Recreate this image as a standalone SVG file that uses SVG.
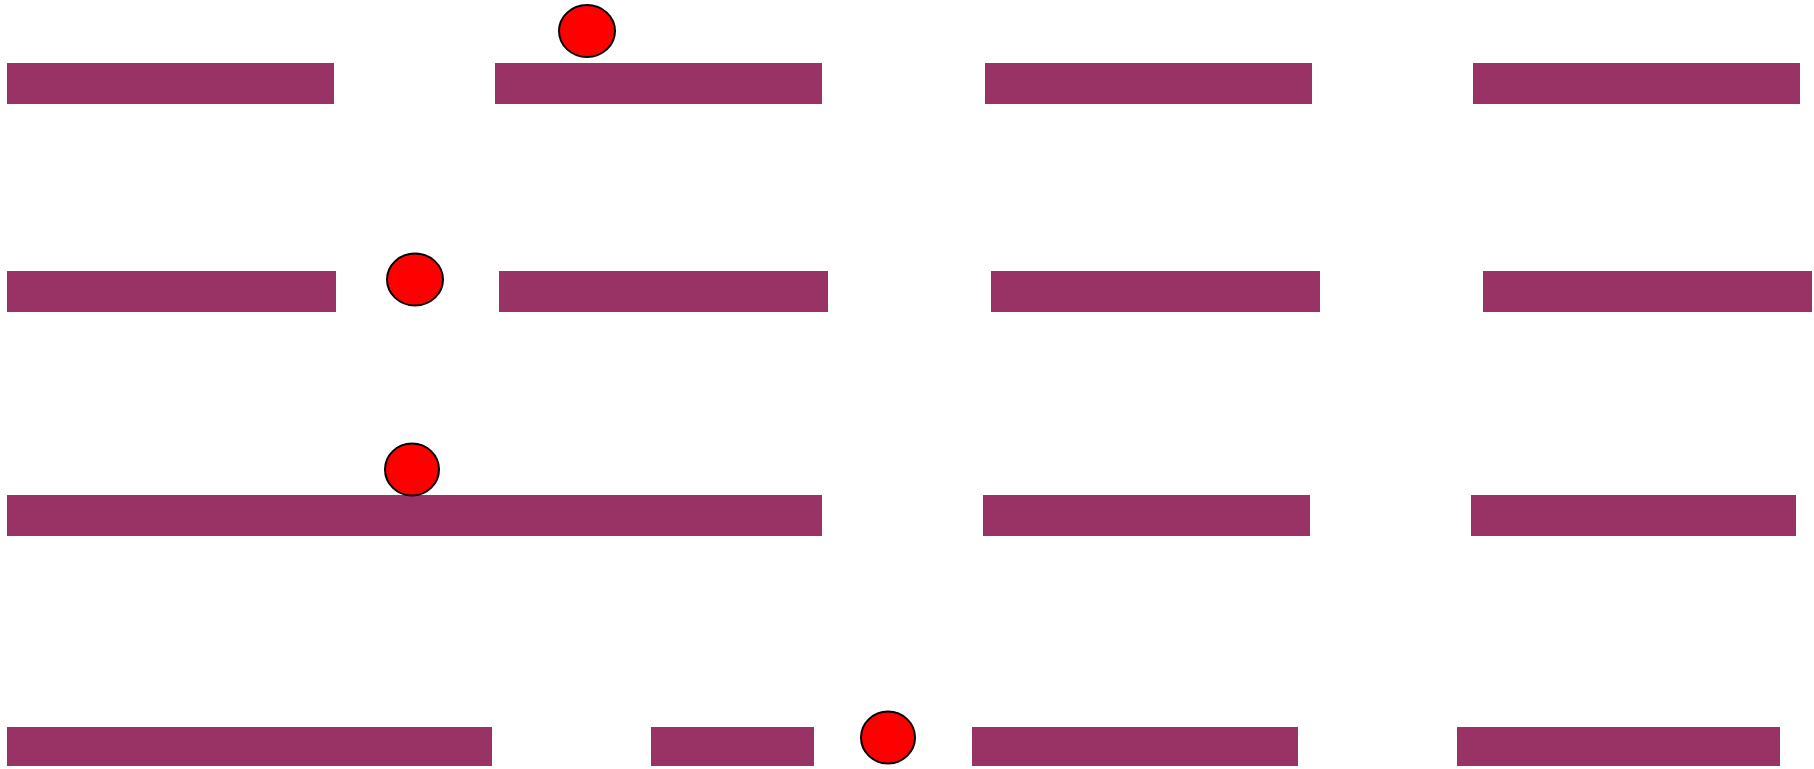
<svg xmlns="http://www.w3.org/2000/svg" width="1814" height="769" viewBox="0 0 1814 769">
<style>
.bar{fill:#993366;stroke:none}
.ball{fill:#ff0000;stroke:#000000;stroke-width:2}
</style>
<rect width="1814" height="769" fill="#ffffff"/>
<g id="row1">
<rect id="r1b1" class="bar" x="7" y="63" width="327" height="41"/>
<rect id="r1b2" class="bar" x="495" y="63" width="327" height="41"/>
<rect id="r1b3" class="bar" x="985" y="63" width="327" height="41"/>
<rect id="r1b4" class="bar" x="1473" y="63" width="327" height="41"/>
<ellipse id="ball1" class="ball" cx="587" cy="31" rx="28" ry="26"/>
</g>
<g id="row2">
<rect id="r2b1" class="bar" x="7" y="271" width="329" height="41"/>
<rect id="r2b2" class="bar" x="499" y="271" width="329" height="41"/>
<rect id="r2b3" class="bar" x="991" y="271" width="329" height="41"/>
<rect id="r2b4" class="bar" x="1483" y="271" width="329" height="41"/>
<ellipse id="ball2" class="ball" cx="415" cy="279.5" rx="28" ry="26"/>
</g>
<g id="row3">
<rect id="r3b1" class="bar" x="7" y="495" width="815" height="41"/>
<rect id="r3b2" class="bar" x="983" y="495" width="327" height="41"/>
<rect id="r3b3" class="bar" x="1471" y="495" width="325" height="41"/>
<ellipse id="ball3" class="ball" cx="412" cy="469.5" rx="27" ry="26"/>
</g>
<g id="row4">
<rect id="r4b1" class="bar" x="7" y="727" width="485" height="39"/>
<rect id="r4b2" class="bar" x="651" y="727" width="163" height="39"/>
<rect id="r4b3" class="bar" x="972" y="727" width="326" height="39"/>
<rect id="r4b4" class="bar" x="1457" y="727" width="323" height="39"/>
<ellipse id="ball4" class="ball" cx="888" cy="737.5" rx="27" ry="26"/>
</g>
</svg>
